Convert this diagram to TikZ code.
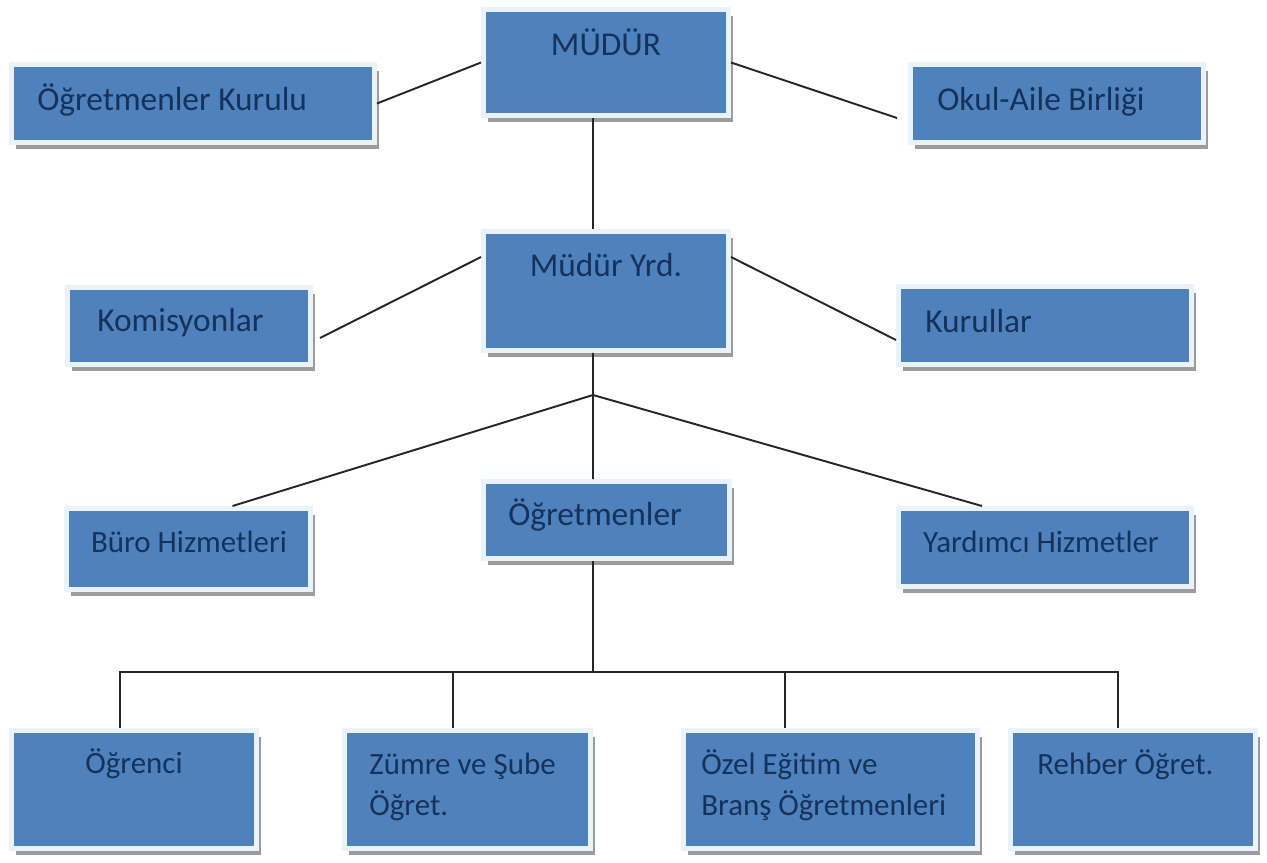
\documentclass[tikz,border=0pt]{standalone}
\usepackage{fontspec}
\setmainfont{Carlito}
\usepackage{xcolor}
\usepackage{tikz}
\usetikzlibrary{calc, shadows, positioning}

\definecolor{kutumavi}{HTML}{4F81BD}
\definecolor{cerceve}{HTML}{EAF2FB}
\definecolor{golge}{HTML}{9C9C9C}
\definecolor{yazirengi}{HTML}{15325A}

\tikzset{
    kutu/.style={rectangle, fill=kutumavi, draw=cerceve, line width=0.1cm,
        inner sep=0pt,
        drop shadow={shadow xshift=0.09cm, shadow yshift=-0.13cm, fill=golge, opacity=1}},
    yazi/.style={inner sep=0pt, text=yazirengi, font=\fontsize{19}{23.2}\selectfont},
    yazikucuk/.style={yazi, font=\fontsize{17.6}{23.2}\selectfont},
    baglanti/.style={line width=1.1pt, draw=black!85}
}

\begin{document}
\begin{tikzpicture}[x=0.02cm, y=-0.02cm]
    \useasboundingbox (0,0) rectangle (1267,862);

    % 1. Üst kademe
    \node[kutu, minimum width=4.9cm, minimum height=2.12cm] (mudur) at (606,62.5) {};
    \node[kutu, minimum width=7.26cm, minimum height=1.56cm] (kurulu) at (193,103.5) {};
    \node[kutu, minimum width=5.86cm, minimum height=1.56cm] (veli) at (1057,103.5) {};
    \node[yazi, anchor=base] (mudur-y) at (606,55) {MÜDÜR};
    \node[yazi, anchor=base west] (kurulu-y) at (37,110) {Öğretmenler Kurulu};
    \node[yazi, anchor=base west] (veli-y) at (937,110) {Okul-Aile Birliği};

    % 2. Müdür yardımcısı kademesi
    \node[kutu, minimum width=4.9cm, minimum height=2.38cm] (yrd) at (606,291) {};
    \node[kutu, minimum width=4.86cm, minimum height=1.54cm] (komisyon) at (189,326) {};
    \node[kutu, minimum width=5.86cm, minimum height=1.56cm] (kurullar) at (1045,325.5) {};
    \node[yazi, anchor=base] (yrd-y) at (606,276) {Müdür Yrd.};
    \node[yazi, anchor=base west] (komisyon-y) at (97,331) {Komisyonlar};
    \node[yazi, anchor=base west] (kurullar-y) at (925,332) {Kurullar};

    % 3. Hizmetler ve öğretmenler
    \node[kutu, minimum width=4.88cm, minimum height=1.62cm] (buro) at (188.5,549) {};
    \node[kutu, minimum width=4.92cm, minimum height=1.54cm] (ogretmen) at (606.5,520) {};
    \node[kutu, minimum width=5.86cm, minimum height=1.56cm] (yardimci) at (1045,547.5) {};
    \node[yazikucuk, anchor=base] (buro-y) at (189,552) {Büro Hizmetleri};
    \node[yazi, anchor=base west] (ogretmen-y) at (508,525) {Öğretmenler};
    \node[yazikucuk, anchor=base] (yardimci-y) at (1041,552) {Yardımcı Hizmetler};

    % 4. Alt kademe
    \node[kutu, minimum width=4.9cm, minimum height=2.36cm] (ogrenci) at (134,789.5) {};
    \node[kutu, minimum width=4.92cm, minimum height=2.36cm] (zumre) at (467.5,789.5) {};
    \node[kutu, minimum width=5.88cm, minimum height=2.36cm] (ozel) at (830.5,789.5) {};
    \node[kutu, minimum width=4.9cm, minimum height=2.36cm] (rehber) at (1133,789.5) {};
    \node[yazikucuk, anchor=base] (ogrenci-y) at (134,773) {Öğrenci};
    \node[yazikucuk, anchor=base west, align=left] (zumre-y) at (369,815) {Zümre ve Şube\\Öğret.};
    \node[yazikucuk, anchor=base west, align=left] (ozel-y) at (701,815) {Özel Eğitim ve\\Branş Öğretmenleri};
    \node[yazikucuk, anchor=base west] (rehber-y) at (1037,774) {Rehber Öğret.};

    % 5. Bağlantılar
    \coordinate (kavsak) at (593,395);
    \coordinate (dal) at (593,672);
    \draw[baglanti] (kurulu.east) -- (mudur.west);
    \draw[baglanti] (mudur.east) -- ([xshift=-0.22cm, yshift=-0.29cm]veli.west);
    \draw[baglanti] ([xshift=-0.26cm]mudur.south) -- ([xshift=-0.26cm]yrd.north);
    \draw[baglanti] ([yshift=-0.56cm]yrd.north west) -- ([xshift=0.14cm, yshift=-0.24cm]komisyon.east);
    \draw[baglanti] ([yshift=-0.56cm]yrd.north east) -- ([yshift=-0.29cm]kurullar.west);
    \draw[baglanti] ([xshift=-0.26cm]yrd.south) -- (kavsak) -- ([xshift=-0.27cm]ogretmen.north);
    \draw[baglanti] (kavsak) -- ([xshift=0.88cm]buro.north);
    \draw[baglanti] (kavsak) -- ([xshift=-1.26cm]yardimci.north);
    \draw[baglanti] ([xshift=-0.27cm]ogretmen.south) -- (dal);
    \foreach \kutuadi/\kayma in {ogrenci/-0.28cm, zumre/-0.29cm, ozel/-0.91cm, rehber/-0.3cm}
        \draw[baglanti] ([xshift=\kayma]\kutuadi.north) |- (dal);
\end{tikzpicture}
\end{document}
